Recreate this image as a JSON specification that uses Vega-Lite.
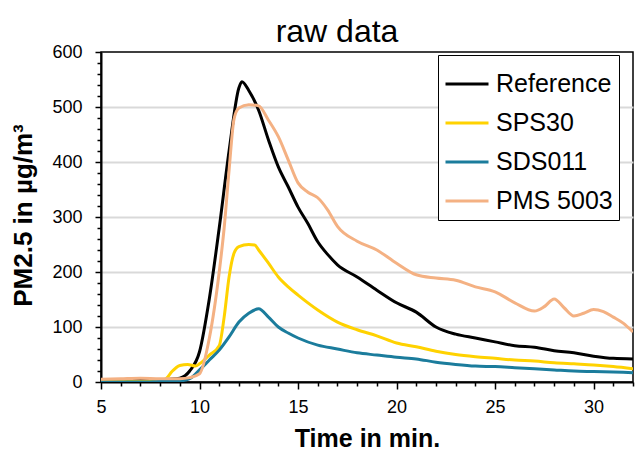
{
  "$schema": "https://vega.github.io/schema/vega-lite/v6.json",
  "width": 532,
  "height": 330,
  "autosize": {"type": "none"},
  "padding": {"left": 101, "top": 52, "right": 9, "bottom": 75},
  "background": "white",
  "config": {
    "font": "Liberation Sans",
    "view": {"stroke": "black", "strokeWidth": 1.5}
  },
  "title": {
    "text": "raw data",
    "fontSize": 32,
    "fontWeight": "normal",
    "font": "Liberation Sans",
    "color": "black",
    "anchor": "middle",
    "frame": "group",
    "dx": -30,
    "dy": 10,
    "offset": 4
  },
  "data": {
    "values": [
      {"t": 5, "v": 3, "s": "Reference"},
      {"t": 6, "v": 4, "s": "Reference"},
      {"t": 7, "v": 4, "s": "Reference"},
      {"t": 8, "v": 4, "s": "Reference"},
      {"t": 8.5, "v": 5, "s": "Reference"},
      {"t": 9, "v": 7, "s": "Reference"},
      {"t": 9.5, "v": 20, "s": "Reference"},
      {"t": 10, "v": 55, "s": "Reference"},
      {"t": 10.5, "v": 152, "s": "Reference"},
      {"t": 11, "v": 280, "s": "Reference"},
      {"t": 11.5, "v": 420, "s": "Reference"},
      {"t": 12, "v": 535, "s": "Reference"},
      {"t": 12.15, "v": 546, "s": "Reference"},
      {"t": 12.5, "v": 530, "s": "Reference"},
      {"t": 13, "v": 494, "s": "Reference"},
      {"t": 13.5, "v": 440, "s": "Reference"},
      {"t": 14, "v": 391, "s": "Reference"},
      {"t": 14.5, "v": 355, "s": "Reference"},
      {"t": 15, "v": 318, "s": "Reference"},
      {"t": 15.5, "v": 288, "s": "Reference"},
      {"t": 16, "v": 255, "s": "Reference"},
      {"t": 16.5, "v": 232, "s": "Reference"},
      {"t": 17, "v": 213, "s": "Reference"},
      {"t": 18, "v": 191, "s": "Reference"},
      {"t": 19, "v": 167, "s": "Reference"},
      {"t": 20, "v": 144, "s": "Reference"},
      {"t": 21, "v": 127, "s": "Reference"},
      {"t": 22, "v": 100, "s": "Reference"},
      {"t": 23, "v": 87, "s": "Reference"},
      {"t": 24, "v": 80, "s": "Reference"},
      {"t": 25, "v": 73, "s": "Reference"},
      {"t": 26, "v": 66, "s": "Reference"},
      {"t": 27, "v": 63, "s": "Reference"},
      {"t": 28, "v": 57, "s": "Reference"},
      {"t": 29, "v": 53, "s": "Reference"},
      {"t": 30, "v": 47, "s": "Reference"},
      {"t": 31, "v": 43, "s": "Reference"},
      {"t": 32, "v": 42, "s": "Reference"},

      {"t": 5, "v": 1, "s": "SPS30"},
      {"t": 6, "v": 1, "s": "SPS30"},
      {"t": 7, "v": 1, "s": "SPS30"},
      {"t": 8, "v": 2, "s": "SPS30"},
      {"t": 8.3, "v": 6, "s": "SPS30"},
      {"t": 8.6, "v": 19, "s": "SPS30"},
      {"t": 9, "v": 30, "s": "SPS30"},
      {"t": 9.4, "v": 32, "s": "SPS30"},
      {"t": 9.8, "v": 29, "s": "SPS30"},
      {"t": 10, "v": 33, "s": "SPS30"},
      {"t": 10.5, "v": 49, "s": "SPS30"},
      {"t": 11, "v": 66, "s": "SPS30"},
      {"t": 11.25, "v": 118, "s": "SPS30"},
      {"t": 11.5, "v": 191, "s": "SPS30"},
      {"t": 11.75, "v": 234, "s": "SPS30"},
      {"t": 12, "v": 246, "s": "SPS30"},
      {"t": 12.5, "v": 250, "s": "SPS30"},
      {"t": 12.8, "v": 249, "s": "SPS30"},
      {"t": 13, "v": 240, "s": "SPS30"},
      {"t": 13.5, "v": 216, "s": "SPS30"},
      {"t": 14, "v": 191, "s": "SPS30"},
      {"t": 14.5, "v": 173, "s": "SPS30"},
      {"t": 15, "v": 158, "s": "SPS30"},
      {"t": 16, "v": 131, "s": "SPS30"},
      {"t": 17, "v": 109, "s": "SPS30"},
      {"t": 18, "v": 95, "s": "SPS30"},
      {"t": 19, "v": 84, "s": "SPS30"},
      {"t": 20, "v": 71, "s": "SPS30"},
      {"t": 21, "v": 64, "s": "SPS30"},
      {"t": 22, "v": 56, "s": "SPS30"},
      {"t": 23, "v": 50, "s": "SPS30"},
      {"t": 24, "v": 46, "s": "SPS30"},
      {"t": 25, "v": 43, "s": "SPS30"},
      {"t": 26, "v": 40, "s": "SPS30"},
      {"t": 27, "v": 38, "s": "SPS30"},
      {"t": 28, "v": 35, "s": "SPS30"},
      {"t": 29, "v": 33, "s": "SPS30"},
      {"t": 30, "v": 31, "s": "SPS30"},
      {"t": 31, "v": 28, "s": "SPS30"},
      {"t": 32, "v": 24, "s": "SPS30"},

      {"t": 5, "v": 0, "s": "SDS011"},
      {"t": 6, "v": 0, "s": "SDS011"},
      {"t": 7, "v": 0, "s": "SDS011"},
      {"t": 8, "v": 1, "s": "SDS011"},
      {"t": 9, "v": 2, "s": "SDS011"},
      {"t": 9.5, "v": 6, "s": "SDS011"},
      {"t": 10, "v": 22, "s": "SDS011"},
      {"t": 10.5, "v": 40, "s": "SDS011"},
      {"t": 11, "v": 58, "s": "SDS011"},
      {"t": 11.5, "v": 82, "s": "SDS011"},
      {"t": 12, "v": 109, "s": "SDS011"},
      {"t": 12.5, "v": 125, "s": "SDS011"},
      {"t": 13, "v": 133, "s": "SDS011"},
      {"t": 13.5, "v": 118, "s": "SDS011"},
      {"t": 14, "v": 100, "s": "SDS011"},
      {"t": 14.5, "v": 89, "s": "SDS011"},
      {"t": 15, "v": 80, "s": "SDS011"},
      {"t": 16, "v": 67, "s": "SDS011"},
      {"t": 17, "v": 60, "s": "SDS011"},
      {"t": 18, "v": 53, "s": "SDS011"},
      {"t": 19, "v": 49, "s": "SDS011"},
      {"t": 20, "v": 45, "s": "SDS011"},
      {"t": 21, "v": 42, "s": "SDS011"},
      {"t": 22, "v": 36, "s": "SDS011"},
      {"t": 23, "v": 32, "s": "SDS011"},
      {"t": 24, "v": 29, "s": "SDS011"},
      {"t": 25, "v": 28, "s": "SDS011"},
      {"t": 26, "v": 26, "s": "SDS011"},
      {"t": 27, "v": 24, "s": "SDS011"},
      {"t": 28, "v": 22, "s": "SDS011"},
      {"t": 29, "v": 20, "s": "SDS011"},
      {"t": 30, "v": 19, "s": "SDS011"},
      {"t": 31, "v": 18, "s": "SDS011"},
      {"t": 32, "v": 17, "s": "SDS011"},

      {"t": 5, "v": 5, "s": "PMS 5003"},
      {"t": 6, "v": 6, "s": "PMS 5003"},
      {"t": 7, "v": 7, "s": "PMS 5003"},
      {"t": 8, "v": 6, "s": "PMS 5003"},
      {"t": 9, "v": 6, "s": "PMS 5003"},
      {"t": 9.5, "v": 8, "s": "PMS 5003"},
      {"t": 10, "v": 15, "s": "PMS 5003"},
      {"t": 10.5, "v": 80, "s": "PMS 5003"},
      {"t": 11, "v": 200, "s": "PMS 5003"},
      {"t": 11.25, "v": 280, "s": "PMS 5003"},
      {"t": 11.5, "v": 385, "s": "PMS 5003"},
      {"t": 11.75, "v": 478, "s": "PMS 5003"},
      {"t": 12, "v": 498, "s": "PMS 5003"},
      {"t": 12.5, "v": 504, "s": "PMS 5003"},
      {"t": 13, "v": 502, "s": "PMS 5003"},
      {"t": 13.5, "v": 476, "s": "PMS 5003"},
      {"t": 14, "v": 446, "s": "PMS 5003"},
      {"t": 14.5, "v": 404, "s": "PMS 5003"},
      {"t": 15, "v": 362, "s": "PMS 5003"},
      {"t": 15.5, "v": 345, "s": "PMS 5003"},
      {"t": 16, "v": 335, "s": "PMS 5003"},
      {"t": 16.5, "v": 313, "s": "PMS 5003"},
      {"t": 17, "v": 283, "s": "PMS 5003"},
      {"t": 18, "v": 256, "s": "PMS 5003"},
      {"t": 19, "v": 240, "s": "PMS 5003"},
      {"t": 20, "v": 216, "s": "PMS 5003"},
      {"t": 21, "v": 195, "s": "PMS 5003"},
      {"t": 22, "v": 189, "s": "PMS 5003"},
      {"t": 23, "v": 185, "s": "PMS 5003"},
      {"t": 24, "v": 173, "s": "PMS 5003"},
      {"t": 25, "v": 164, "s": "PMS 5003"},
      {"t": 26, "v": 144, "s": "PMS 5003"},
      {"t": 27, "v": 129, "s": "PMS 5003"},
      {"t": 27.5, "v": 137, "s": "PMS 5003"},
      {"t": 28, "v": 151, "s": "PMS 5003"},
      {"t": 28.5, "v": 135, "s": "PMS 5003"},
      {"t": 29, "v": 120, "s": "PMS 5003"},
      {"t": 29.5, "v": 125, "s": "PMS 5003"},
      {"t": 30, "v": 132, "s": "PMS 5003"},
      {"t": 30.5, "v": 128, "s": "PMS 5003"},
      {"t": 31, "v": 118, "s": "PMS 5003"},
      {"t": 31.5, "v": 107, "s": "PMS 5003"},
      {"t": 32, "v": 91, "s": "PMS 5003"}
    ]
  },
  "mark": {"type": "line", "interpolate": "monotone", "strokeWidth": 3, "clip": true},
  "encoding": {
    "x": {
      "field": "t",
      "type": "quantitative",
      "scale": {"domain": [5, 32], "nice": false, "zero": false},
      "axis": {
        "title": "Time in min.",
        "titleFont": "Liberation Sans",
        "titleFontSize": 25,
        "titleFontWeight": "bold",
        "titleColor": "black",
        "titlePadding": 10,
        "values": [5,6,7,8,9,10,11,12,13,14,15,16,17,18,19,20,21,22,23,24,25,26,27,28,29,30,31,32],
        "labelExpr": "datum.value % 5 === 0 ? datum.label : ''",
        "labelOverlap": false,
        "labelFlush": false,
        "labelFont": "Liberation Sans",
        "labelFontSize": 18,
        "labelColor": "black",
        "labelPadding": 9,
        "domainColor": "black",
        "domainWidth": 2,
        "tickColor": "black",
        "tickWidth": 1.5,
        "tickSize": {"condition": {"test": "datum.value % 5 === 0", "value": 7}, "value": 4},
        "grid": false
      }
    },
    "y": {
      "field": "v",
      "type": "quantitative",
      "scale": {"domain": [0, 600], "nice": false},
      "axis": {
        "title": "PM2.5 in µg/m³",
        "titleFont": "Liberation Sans",
        "titleFontSize": 26,
        "titleFontWeight": "bold",
        "titleColor": "black",
        "titleBaseline": "alphabetic",
        "titleAngle": -90,
        "titleAlign": "center",
        "titleX": -70,
        "titleY": 163,
        "values": [0,20,40,60,80,100,120,140,160,180,200,220,240,260,280,300,320,340,360,380,400,420,440,460,480,500,520,540,560,580,600],
        "labelExpr": "datum.value % 100 === 0 ? datum.label : ''",
        "labelOverlap": false,
        "labelFlush": false,
        "labelFont": "Liberation Sans",
        "labelFontSize": 18,
        "labelColor": "black",
        "labelPadding": 13,
        "domainColor": "black",
        "domainWidth": 2,
        "tickColor": "black",
        "tickWidth": 1.5,
        "tickSize": {"condition": {"test": "datum.value % 100 === 0", "value": 6}, "value": 4},
        "grid": true,
        "gridColor": "#D9D9D9",
        "gridWidth": 2,
        "gridOpacity": {"condition": {"test": "datum.value % 100 === 0 && datum.value > 0 && datum.value < 600", "value": 1}, "value": 0}
      }
    },
    "color": {
      "field": "s",
      "type": "nominal",
      "scale": {
        "domain": ["Reference", "SPS30", "SDS011", "PMS 5003"],
        "range": ["#000000", "#FFD200", "#1B7C9C", "#F4B183"]
      },
      "legend": {
        "title": null,
        "orient": "none",
        "legendX": 337,
        "legendY": 3,
        "symbolType": "stroke",
        "symbolSize": 1849,
        "symbolStrokeWidth": 3,
        "labelFont": "Liberation Sans",
        "labelFontSize": 25,
        "labelColor": "black",
        "labelOffset": 6,
        "labelLimit": 300,
        "rowPadding": 3,
        "padding": 6,
        "strokeColor": "black",
        "fillColor": "white",
        "cornerRadius": 0
      }
    }
  }
}
